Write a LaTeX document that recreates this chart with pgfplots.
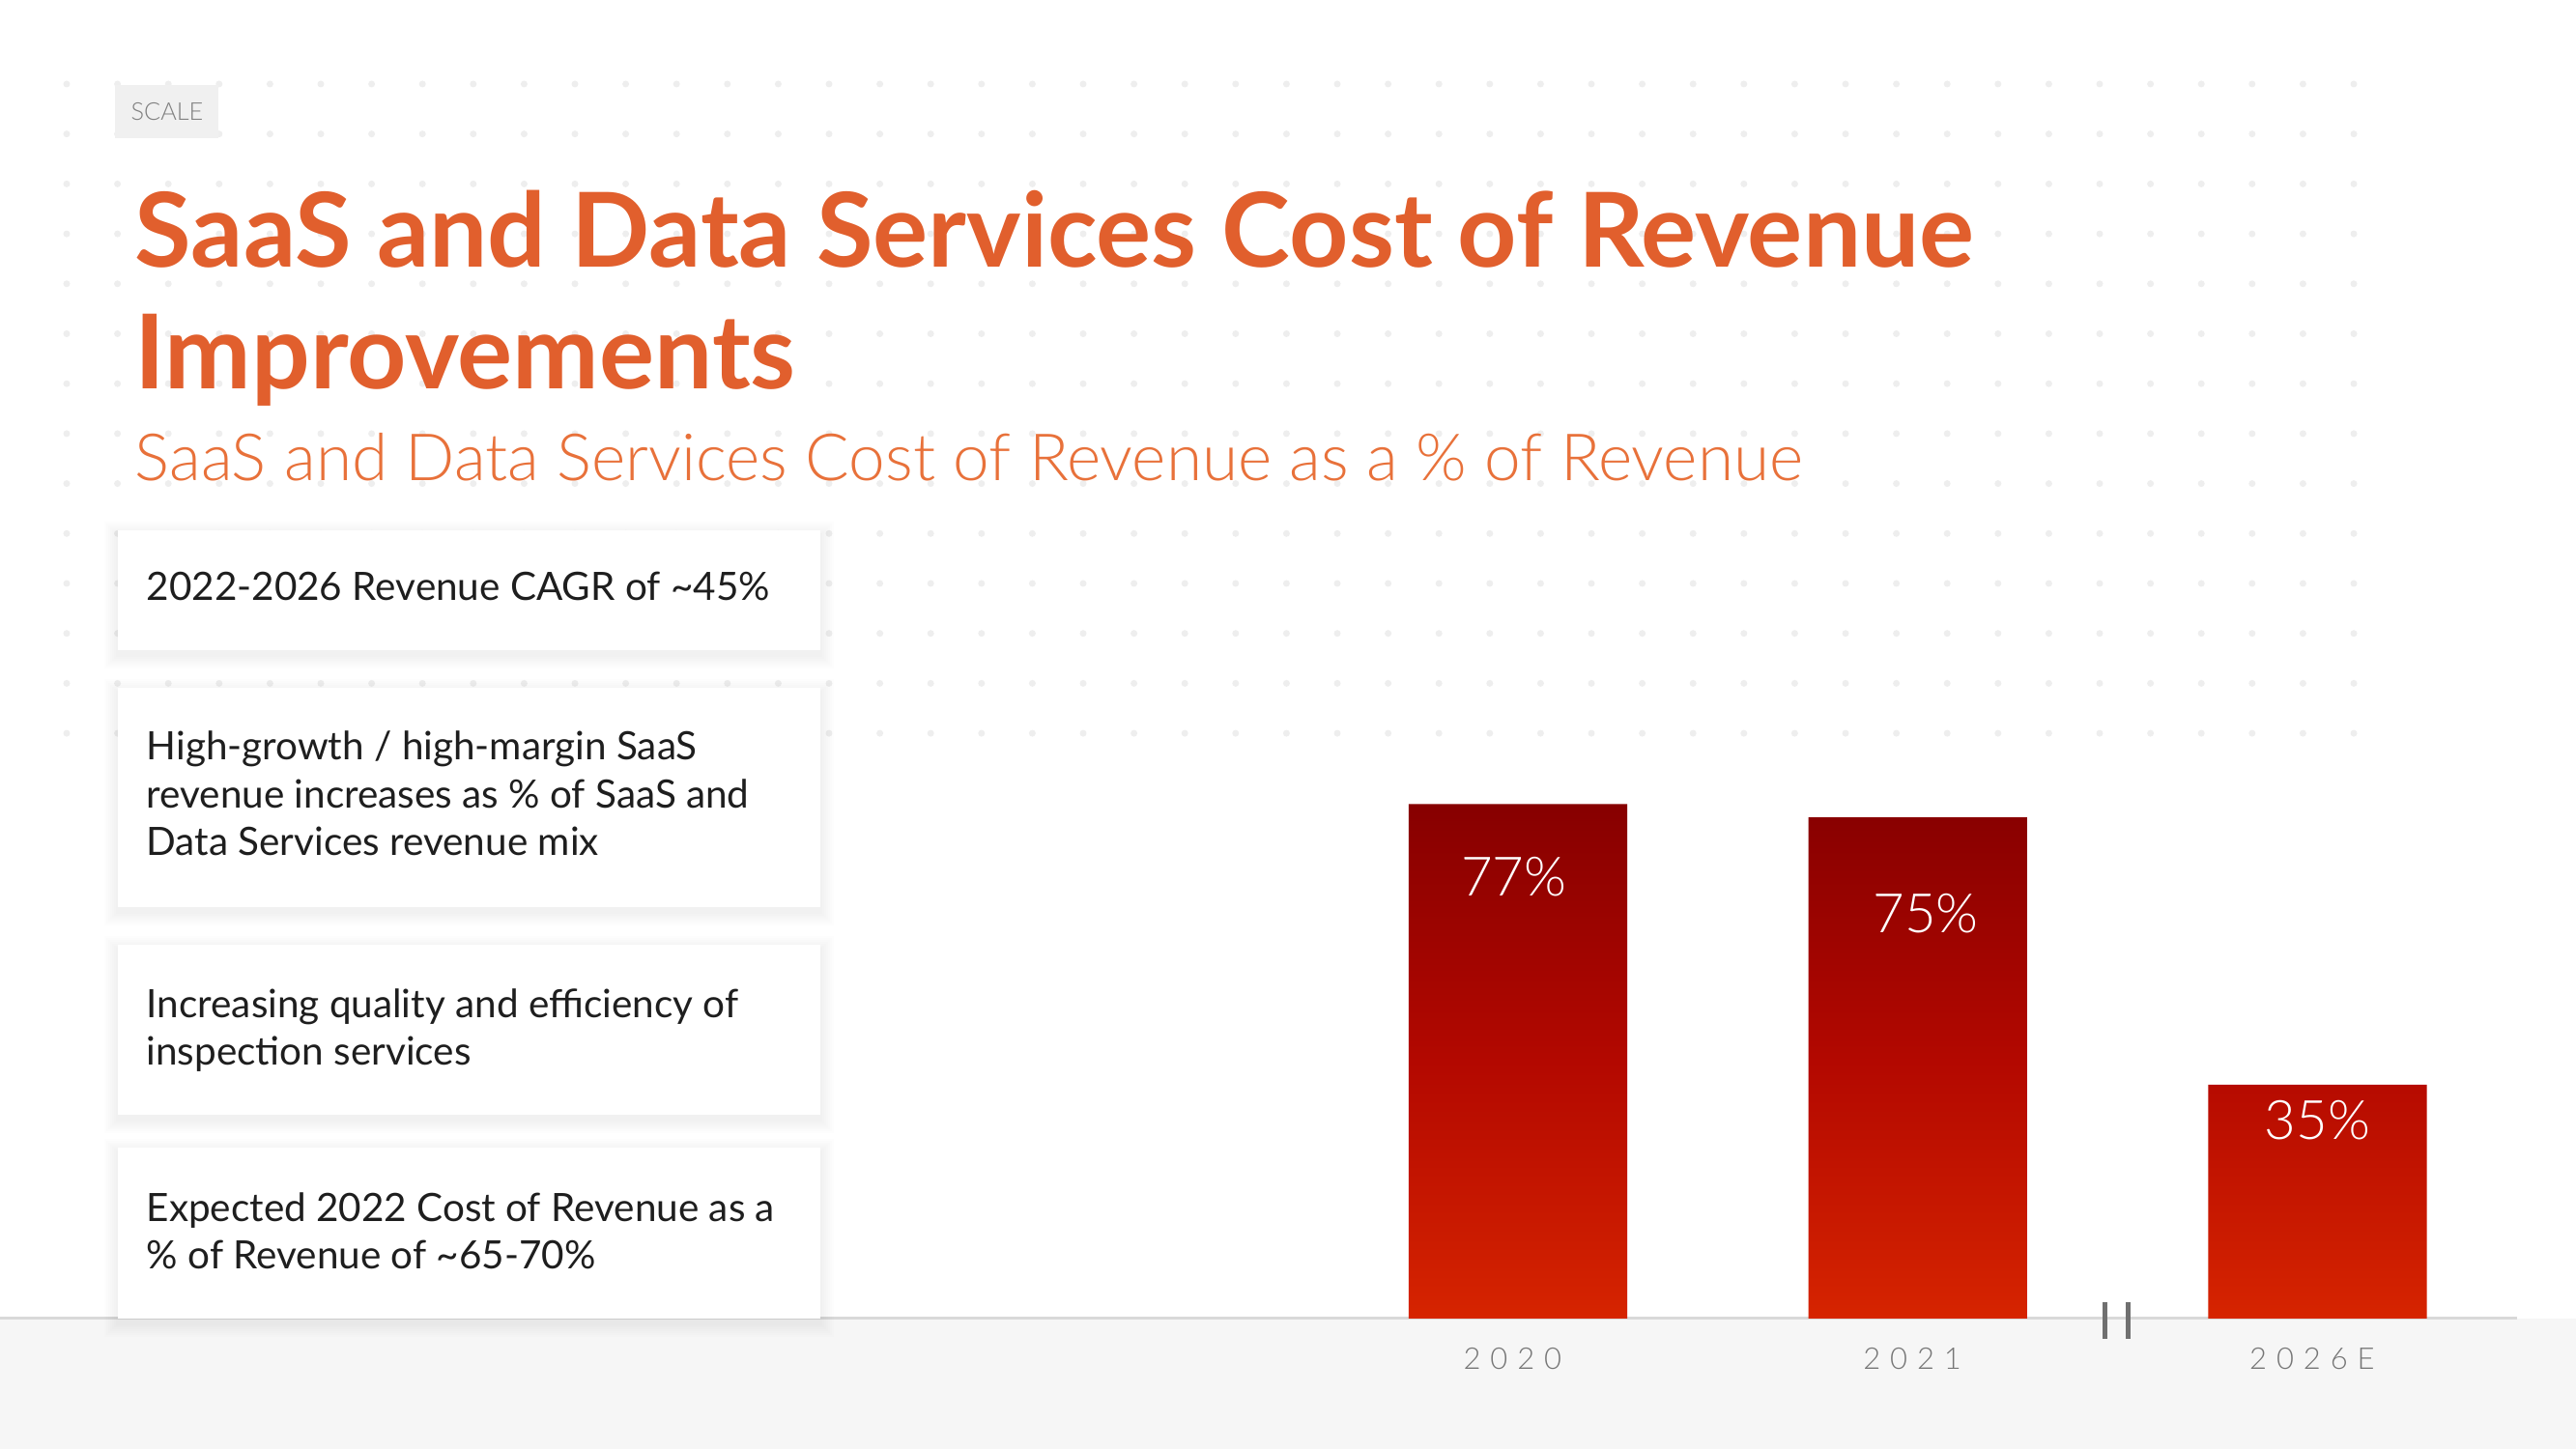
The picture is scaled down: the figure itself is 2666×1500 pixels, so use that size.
\documentclass[border=0pt]{standalone}
\usepackage{fontspec}
\setmainfont{Lato}
\newfontfamily\lightfont{Lato Light}
\newfontfamily\tickfont[LetterSpace=32]{Lato Light}
\usepackage{pgfplots}
\pgfplotsset{compat=1.18}
\definecolor{titleor}{HTML}{E15F2D}
\definecolor{subor}{HTML}{E8713A}
\definecolor{bartop}{HTML}{870000}
\definecolor{barmid}{HTML}{B30800}
\definecolor{barbot}{HTML}{D62400}
\definecolor{dotgray}{HTML}{EEEEEE}
\definecolor{footgray}{HTML}{F6F6F6}
\definecolor{tickgray}{HTML}{767676}
\definecolor{bodytext}{HTML}{1E1E1E}
\begin{document}
\begin{tikzpicture}
\begin{scope}[x=0.01cm,y=0.01cm]
\useasboundingbox (0,0) rectangle (2666,1500);
\fill[white] (0,0) rectangle (2666,1500);
% dot grid background
\foreach \i in {0,...,45} {
  \foreach \j in {0,...,13} {
    \fill[dotgray] ({69+52.6*\i},{1413-51.7*\j}) circle[radius=0.035cm];
  }
}
% footer band
\fill[footgray] (0,0) rectangle (2666,135);
\draw[color=black!15, line width=0.03cm] (0,135) -- (2605,135);
% SCALE tag
\fill[black!6] (119,1357) rectangle (226,1412);
\node[text=black!50, inner sep=0] at (173,1384) {\lightfont\fontsize{7.2pt}{8pt}\selectfont SCALE};
% title
\node[anchor=base west, inner sep=0, text=titleor] at (139,1223) {\bfseries\fontsize{30.4pt}{36pt}\selectfont SaaS and Data Services Cost of Revenue};
\node[anchor=base west, inner sep=0, text=titleor] at (139,1097) {\bfseries\fontsize{30.4pt}{36pt}\selectfont Improvements};
\node[anchor=base west, inner sep=0, text=subor] at (139,1002) {\lightfont\fontsize{19.2pt}{22pt}\selectfont SaaS and Data Services Cost of Revenue as a \% of Revenue};
% boxes with soft shadow
\foreach \ya/\yb in {827/951, 561/788, 346/522, 135/312} {
  \foreach \k in {2,4,...,14} {
    \fill[black, opacity=0.007] ({122-\k},{\ya-\k-5}) rectangle ({849+\k},{\yb+\k-5});
  }
  \fill[white] (122,\ya) rectangle (849,\yb);
}
\tikzset{bodyline/.style={anchor=base west, inner sep=0, text=bodytext, font=\fontsize{11.5pt}{14pt}\selectfont}}
\node[bodyline] at (151,878) {2022-2026 Revenue CAGR of \textasciitilde45\%};
\node[bodyline] at (151,713) {High-growth / high-margin SaaS};
\node[bodyline] at (151,663) {revenue increases as \% of SaaS and};
\node[bodyline] at (151,614) {Data Services revenue mix};
\node[bodyline] at (151,446) {Increasing quality and efficiency of};
\node[bodyline] at (151,397) {inspection services};
\node[bodyline] at (151,235) {Expected 2022 Cost of Revenue as a};
\node[bodyline] at (151,186) {\% of Revenue of \textasciitilde65-70\%};
% axis break marker
\draw[color=black!56, line width=0.05cm] (2178,114) -- (2178,152);
\draw[color=black!56, line width=0.05cm] (2202,114) -- (2202,152);
\end{scope}
% chart
\begin{axis}[
  at={(13.22cm,1.35cm)}, anchor=south west, scale only axis,
  width=13.232cm, height=6.912cm,
  xmin=-0.6, xmax=2.6, ymin=0, ymax=100,
  axis line style={draw=none},
  xtick={0,1,2}, xticklabels={2020,2021,2026E},
  major tick length=0pt, xtick style={draw=none},
  ytick=\empty,
  x tick label style={anchor=base, yshift=-0.53cm, xshift=-1.6pt, font=\tickfont\fontsize{8.8pt}{10pt}\selectfont, text=tickgray},
  clip=false,
]
\addplot[ybar, bar width=2.26cm, draw=none, top color=bartop, bottom color=barbot, middle color=barmid]
  coordinates {(0,77) (1,75) (2,35)};
\node[anchor=base, text=white, inner sep=0] at (axis cs:-0.01,63.3) {\lightfont\fontsize{16pt}{18pt}\selectfont 77\%};
\node[anchor=base, text=white, inner sep=0] at (axis cs:1.02,57.7) {\lightfont\fontsize{16pt}{18pt}\selectfont 75\%};
\node[anchor=base, text=white, inner sep=0] at (axis cs:2,26.8) {\lightfont\fontsize{16pt}{18pt}\selectfont 35\%};
\end{axis}
\end{tikzpicture}
\end{document}
